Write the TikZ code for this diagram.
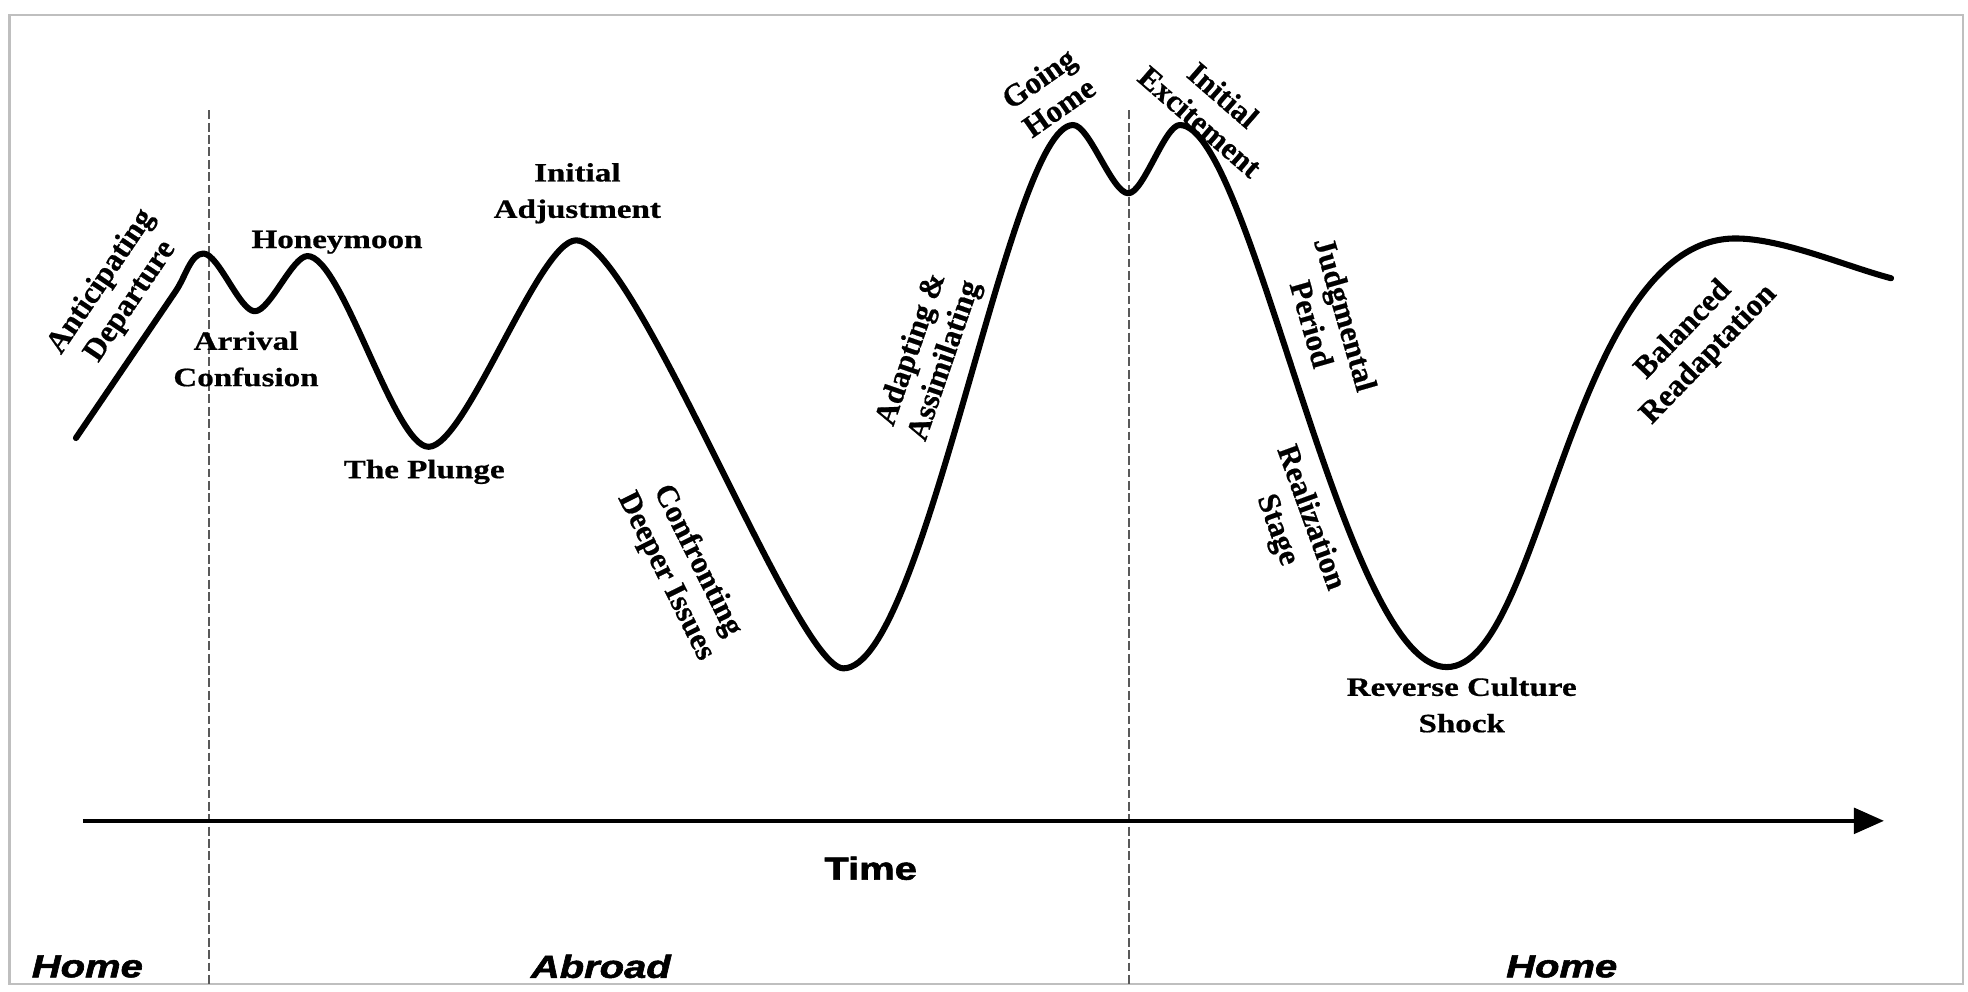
\documentclass[tikz,border=0pt]{standalone}
\usepackage{fontspec}
\setmainfont{Liberation Serif}[BoldFeatures={FakeBold=0.6}]
\setsansfont{Liberation Sans}[BoldFeatures={FakeBold=1.6},BoldItalicFeatures={FakeBold=1.6}]
\usetikzlibrary{arrows.meta}
\begin{document}
\begin{tikzpicture}[x=0.02cm, y=-0.02cm,
  curve/.style={line width=2.75pt, line cap=round, line join=round},
  divider/.style={line width=0.6pt, draw=black!65, dash pattern=on 4pt off 1.6pt},
  axisline/.style={line width=1.7pt, -{Triangle[length=13.6pt,width=11.6pt]}},
  hlab/.style={font=\fontsize{12}{16.5}\selectfont\bfseries, align=center, xscale=1.25, inner sep=0pt},
  rlab/.style={font=\fontsize{14.2}{16}\selectfont\bfseries, align=center, inner sep=0pt},
  slab/.style={font=\sffamily\bfseries\fontsize{14.5}{17}\selectfont, xscale=1.25, inner sep=0pt},
  silab/.style={font=\sffamily\bfseries\itshape\fontsize{14.5}{17}\selectfont, xscale=1.25, inner sep=0pt},
]
\useasboundingbox (0,0) rectangle (1568,790.3);
\fill[white] (0,0) rectangle (1568,790.3);
\draw[gray!50, line width=1.2pt] (7.7,12) rectangle (1564,784);

% dividers
\coordinate (d1t) at (166.5,88);
\coordinate (d1b) at (166.5,784);
\coordinate (d2t) at (899.5,88);
\coordinate (d2b) at (899.5,784);
\draw[divider] (d1t) -- (d1b);
\draw[divider] (d2t) -- (d2b);

% time axis
\coordinate (ax0) at (66,654);
\coordinate (ax1) at (1501,654);
\draw[axisline] (ax0) -- (ax1);

% curve
\coordinate (S) at (60.5,349);
\coordinate (S2) at (140,232);
\coordinate (P1) at (162,202);
\coordinate (T1) at (203,248);
\coordinate (P2) at (245,204);
\coordinate (T2) at (341.5,356);
\coordinate (P3) at (459,191.5);
\coordinate (T3) at (672,532.5);
\coordinate (P4) at (855,99.6);
\coordinate (T4) at (899,154);
\coordinate (P5) at (940,99.6);
\coordinate (T5) at (1152.6,531.5);
\coordinate (P6) at (1382.7,190);
\coordinate (E) at (1506.7,221.7);
\draw[curve] (S) -- (S2)
  .. controls (148,220.2) and (152,202) .. (P1)
  .. controls (174,202) and (191,248) .. (T1)
  .. controls (215,248) and (233,204) .. (P2)
  .. controls (272.5,204) and (314,356) .. (T2)
  .. controls (371,356) and (429.5,191.5) .. (P3)
  .. controls (506,191.5) and (634,532.5) .. (T3)
  .. controls (737,532.5) and (804,99.6) .. (P4)
  .. controls (868,99.6) and (886,154) .. (T4)
  .. controls (911,154) and (928,99.6) .. (P5)
  .. controls (997,99.6) and (1070,531.5) .. (T5)
  .. controls (1229,531.5) and (1251,190) .. (P6)
  .. controls (1420,190) and (1470,212) .. (E);

% stage labels
\node[rlab, rotate=56] (ant) at (92.5,232.4) {Anticipating\\Departure};
\node[hlab] (honey) at (268.5,193) {Honeymoon};
\node[hlab] (arr) at (196,286) {Arrival\\Confusion};
\node[hlab] (plunge) at (338,376) {The Plunge};
\node[hlab] (iadj) at (460,154) {Initial\\Adjustment};
\node[rlab, rotate=-63.5] (conf) at (543,453) {Confronting\\Deeper Issues};
\node[rlab, rotate=71] (adapt) at (740,283) {Adapting \&\\Assimilating};
\node[rlab, rotate=35] (going) at (835.5,73.7) {Going\\Home};
\node[rlab, rotate=-41] (iexc) at (965.4,86.3) {Initial\\Excitement};
\node[rlab, rotate=-74] (judg) at (1058.8,254.3) {Judgmental\\Period};
\node[rlab, rotate=-70] (real) at (1030.4,417.6) {Realization\\Stage};
\node[hlab] (rcs) at (1164.6,561.7) {Reverse Culture\\Shock};
\node[rlab, rotate=46] (bal) at (1351.6,272.9) {Balanced\\Readaptation};

% axis and region labels
\node[slab] (time) at (693.7,691.8) {Time};
\node[silab] (home1) at (69.6,770) {Home};
\node[silab] (abroad) at (478.7,770) {Abroad};
\node[silab] (home2) at (1244.3,770) {Home};
\end{tikzpicture}
\end{document}
